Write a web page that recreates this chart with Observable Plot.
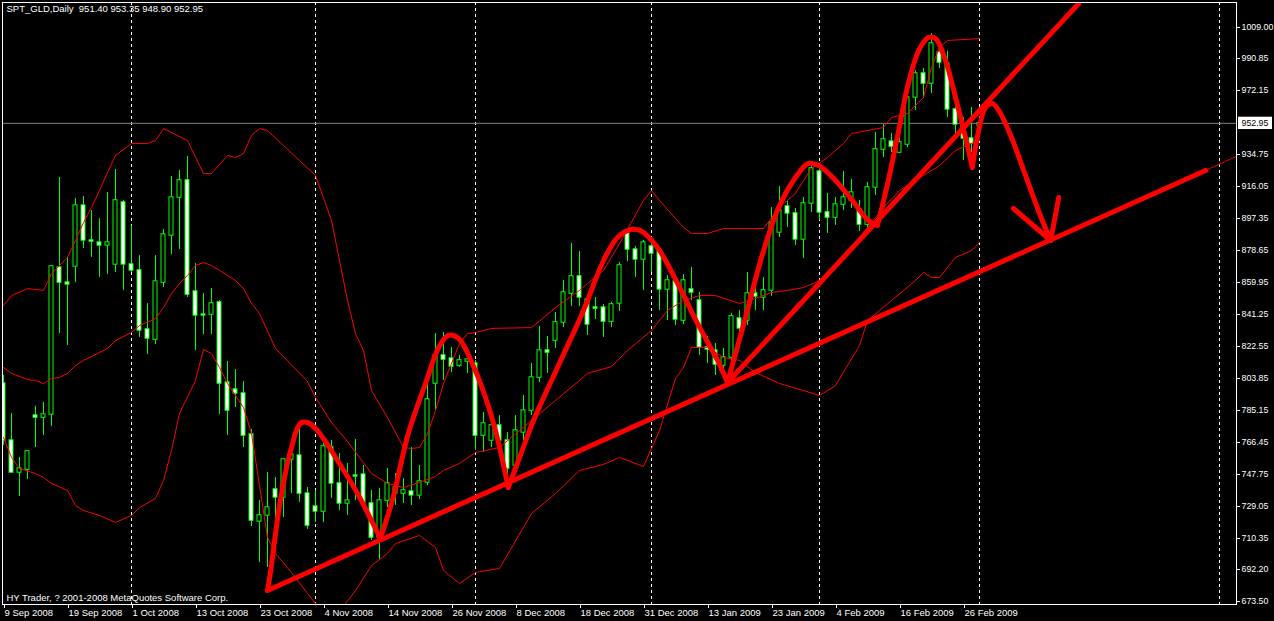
<!DOCTYPE html>
<html>
<head>
<meta charset="utf-8">
<script src="https://cdn.jsdelivr.net/npm/d3@7"></script>
<script src="https://cdn.jsdelivr.net/npm/@observablehq/plot@0.6"></script>
<style>
  html, body { margin: 0; padding: 0; background: #000; }
  #chart svg { display: block; }
</style>
</head>
<body>
<div id="chart"></div>
<script>
// ---------- data ----------
const symbolTitle = "SPT_GLD,Daily  951.40 953.35 948.90 952.95";
const copyright = "HY Trader, ? 2001-2008 MetaQuotes Software Corp.";
const firstDate = "2008-09-09";
const holidays = ["2008-12-25", "2009-01-01"];
const labelEvery = 8;
const extraSeparators = [152];
const lastPrice = 952.95;

const opens = [800.9,767.6,748.9,750.6,782.2,781.0,782.8,868.7,859.9,869.3,904.9,884.5,883.3,881.6,870.5,906.7,870.5,867.0,832.5,826.6,
859.9,887.4,909.6,919.6,854.7,841.2,841.2,848.3,801.5,797.4,795.1,771.1,720.3,723.8,739.0,734.3,756.5,758.8,736.6,729.0,
726.1,763.5,742.5,730.8,747.1,747.7,730.8,710.9,732.5,740.1,736.6,737.8,735.5,743.1,800.9,817.3,815.5,811.4,813.8,812.6,
770.5,767.6,776.4,767.6,753.0,772.3,785.1,804.4,820.2,826.0,836.6,853.5,863.5,850.0,845.3,845.3,837.1,847.7,888.6,879.2,
873.4,881.0,878.6,855.9,860.5,837.7,855.9,849.4,822.0,820.2,811.4,816.1,838.9,837.7,853.5,851.2,855.3,889.2,904.4,900.3,
885.1,906.1,924.8,900.9,897.9,905.5,907.9,902.6,893.8,915.5,937.7,942.3,935.9,940.6,968.1,982.1,976.2,994.4,987.9,961.1,
952.3,944.1,951.40];
const highs = [805.6,783.4,757.7,761.2,787.5,789.8,869.9,921.3,874.6,909.0,910.2,902.0,897.3,912.5,926.0,907.9,893.3,875.7,847.7,875.7,
890.9,921.9,925.4,933.6,871.0,853.5,856.4,849.4,813.8,809.1,802.1,774.0,732.5,748.9,746.0,756.5,763.5,775.2,740.1,738.4,
765.8,767.6,760.0,754.2,768.2,753.0,738.4,739.5,751.2,748.3,745.4,763.5,753.0,800.9,830.1,830.7,822.0,817.3,820.2,814.4,
784.0,782.2,782.2,772.3,782.2,793.9,812.6,834.2,828.4,842.4,861.1,882.7,878.1,852.9,851.2,847.1,848.3,871.6,889.2,881.0,
884.5,884.5,879.2,864.0,862.3,864.6,868.7,854.1,828.4,824.3,821.4,841.8,843.6,865.8,857.0,862.9,903.8,916.0,907.3,903.2,
909.6,930.1,927.2,912.0,909.6,924.8,920.1,907.9,918.4,947.6,952.3,947.0,944.7,970.4,983.8,985.0,1005.5,999.6,995.0,966.3,
956.4,962.2,953.35];
const lows = [764.7,748.3,734.9,744.8,763.5,770.5,775.8,830.1,823.1,859.9,879.8,874.6,862.9,864.6,865.8,855.3,865.8,827.8,817.9,823.7,
857.0,876.3,879.2,851.2,820.2,829.5,829.5,782.8,770.5,786.9,763.5,717.3,696.3,693.4,722.0,722.6,736.6,731.4,715.6,719.7,
719.7,733.7,726.7,723.8,732.5,728.4,709.2,697.5,728.4,729.6,730.8,729.6,733.1,741.3,785.1,802.7,807.3,810.3,806.8,761.8,
760.6,763.5,761.8,738.4,750.1,767.6,782.2,801.5,806.8,821.4,833.6,845.9,845.9,829.0,838.3,827.8,833.6,843.0,872.2,862.9,
855.3,865.8,843.6,837.7,834.8,835.4,849.4,817.3,812.6,805.6,803.8,802.7,830.7,834.8,843.6,843.6,851.8,886.2,892.1,881.6,
874.0,900.9,896.2,888.6,893.3,902.0,903.2,889.7,890.3,910.8,933.0,935.9,935.3,938.8,960.5,967.5,970.4,985.0,956.4,947.0,
931.2,935.9,948.90];
const closes = [767.6,748.9,751.2,761.2,781.0,782.8,869.3,859.9,858.8,904.9,884.5,883.9,881.6,883.3,907.9,870.5,867.0,831.9,827.2,860.5,
888.0,909.6,919.6,852.9,840.7,840.7,847.7,800.9,785.1,795.1,770.5,720.8,723.8,728.4,734.3,756.5,759.4,736.6,717.9,726.1,
764.1,742.5,730.8,732.5,746.6,730.8,710.9,732.5,742.5,736.6,738.4,735.5,743.6,791.6,817.3,814.9,810.8,814.4,814.9,770.5,
777.5,776.4,767.6,751.2,773.4,785.1,804.4,820.2,819.0,836.6,854.1,863.5,851.2,835.4,844.7,837.1,847.1,869.9,879.2,873.4,
883.3,876.9,855.9,861.1,838.3,861.1,854.1,822.0,820.8,812.0,816.1,840.1,833.1,853.5,851.8,855.3,895.0,902.0,900.3,885.1,
906.1,926.6,900.9,897.9,905.5,909.6,912.5,893.8,915.5,937.7,943.5,939.4,941.8,968.1,982.1,976.2,999.6,988.5,961.1,952.3,
944.1,941.2,952.95];

// Bollinger bands: [bar index, price]
const upperBand = [[0,846.5],[1,852.3],[3,856.4],[5,855.3],[6,865.2],[8,874.6],[9,884.5],[10,895.0],[11,903.8],[12,913.7],[13,924.2],[14,934.2],[16,941.2],[18,941.2],[19,942.9],[20,949.9],[23,942.9],[25,923.6],[26,923.6],[28,934.2],[29,933.0],[30,935.3],[31,945.9],[32,949.9],[33,948.8],[35,940.0],[37,931.2],[39,922.5],[41,896.2],[43,849.4],[44,830.1],[45,820.2],[46,796.8],[48,781.0],[50,763.5],[51,762.9],[52,763.5],[53,771.7],[54,785.1],[55,800.9],[57,824.3],[58,830.1],[59,830.7],[61,833.1],[66,833.6],[69,845.3],[72,855.3],[73,859.4],[75,867.0],[77,882.7],[80,907.9],[81,913.7],[82,907.9],[85,892.1],[86,888.6],[88,888.6],[90,891.5],[92,891.5],[95,891.5],[97,903.8],[99,912.0],[100,919.6],[101,926.6],[103,933.0],[105,941.2],[106,947.0],[108,948.8],[110,950.5],[111,956.4],[113,958.7],[115,968.1],[116,985.6],[117,997.3],[118,1001.4],[122,1002.5]];
const middleBand = [[0,810.3],[1,806.8],[3,803.2],[4,802.7],[5,800.9],[6,803.8],[7,804.4],[8,806.8],[9,811.4],[10,814.4],[11,816.7],[13,821.4],[14,826.0],[16,830.7],[17,834.8],[19,838.9],[20,845.3],[21,853.5],[22,859.4],[23,864.0],[24,869.9],[25,871.6],[26,869.9],[27,867.0],[29,861.1],[30,856.4],[31,847.7],[32,841.8],[34,821.4],[38,802.1],[39,792.7],[41,778.1],[43,767.0],[46,748.3],[48,742.5],[50,740.1],[52,743.1],[54,746.6],[55,750.1],[57,754.2],[59,760.6],[62,763.5],[66,779.3],[69,791.0],[72,802.7],[73,806.8],[76,810.8],[78,820.2],[81,831.9],[83,843.6],[85,849.4],[87,852.3],[89,852.3],[92,847.7],[94,850.6],[96,854.1],[98,855.3],[100,857.0],[102,861.1],[104,868.7],[106,880.4],[108,892.1],[110,903.8],[112,913.7],[115,922.5],[117,928.3],[119,937.1],[121,941.2],[122,942.9]];
const lowerBand = [[0,769.4],[1,757.7],[2,751.2],[4,748.3],[5,746.0],[6,742.5],[8,738.4],[9,729.6],[10,726.7],[12,723.8],[14,719.7],[16,723.8],[17,728.4],[19,733.7],[20,744.2],[21,761.8],[22,783.4],[24,802.7],[25,820.8],[26,818.4],[27,810.3],[28,800.9],[30,786.9],[31,771.7],[33,710.9],[34,701.6],[36,690.4],[38,678.2],[40,666.5],[42,667.7],[44,679.9],[46,694.5],[48,701.6],[49,707.4],[52,712.1],[54,705.1],[55,691.6],[57,684.0],[59,690.5],[62,692.8],[66,724.9],[69,736.6],[72,750.1],[75,753.6],[77,757.7],[80,752.4],[82,773.4],[84,803.8],[85,810.3],[86,822.0],[88,822.0],[90,816.1],[92,814.4],[94,807.3],[97,800.9],[100,796.8],[102,793.9],[104,799.7],[107,823.1],[108,837.7],[111,849.4],[114,861.1],[115,865.8],[116,862.9],[117,862.9],[119,874.6],[121,878.6],[122,883.3]];

// price axis labels
const priceTicks = [1009.00,990.85,972.15,934.75,916.05,897.35,878.65,859.95,841.25,822.55,803.85,785.15,766.45,747.75,729.05,710.35,692.20,673.50];

// hand-drawn annotations: [bar index, price]
const trendA = [[33.0,679.9],[150.25,925.4]];
const trendAExt = [[150.25,925.4],[154.1,933.6]];
const trendB = [[90.5,801.5],[134.4,1023.0]];
const humps = [
  [[33.0,679.9],[33.4,691.6],[34.6,732.5],[35.9,761.8],[37.1,777.5],[38.0,778.1],[39.25,773.4],[41.75,755.9],[44.25,736.6],[47.1,710.3]],
  [[47.1,710.3],[48.6,732.5],[50.6,771.7],[52.75,800.9],[54.4,822.0],[55.6,829.0],[56.9,827.2],[58.6,812.6],[60.25,792.7],[61.5,773.4],[63.1,740.1]],
  [[63.1,740.1],[64.6,758.8],[66.25,779.3],[69.25,810.3],[72.5,843.6],[75.0,872.8],[76.75,886.2],[78.4,890.9],[79.6,890.3],[81.75,880.4],[84.25,859.4],[86.75,836.0],[89.25,814.4],[90.5,801.5]],
  [[90.5,801.5],[92.75,839.5],[94.9,876.9],[96.9,903.8],[99.0,921.3],[100.6,929.5],[101.9,928.3],[104.0,919.6],[106.1,907.9],[108.1,896.2],[109.25,893.3]],
  [[109.25,893.3],[110.6,919.6],[111.9,948.8],[113.1,976.2],[114.4,995.5],[115.6,1003.1],[116.5,1002.5],[117.75,989.7],[119.0,968.1],[120.25,944.7],[121.1,927.2]],
  [[121.1,927.2],[121.9,948.8],[122.75,962.2],[123.6,964.6],[124.4,960.5],[125.9,945.9],[127.75,922.5],[129.6,899.1],[130.9,884.5]]
];
const arrowHead = [
  [[126.25,903.2],[130.9,884.5]],
  [[131.9,909.6],[130.9,884.5]]
];

// ---------- derived structures ----------
const dates = [];
{
  let d = new Date(firstDate + "T00:00:00Z");
  while (dates.length < opens.length) {
    const dow = d.getUTCDay();
    const iso = d.toISOString().slice(0, 10);
    if (dow !== 0 && dow !== 6 && !holidays.includes(iso)) dates.push(new Date(d));
    d = new Date(d.getTime() + 86400000);
  }
}
const candles = opens.map((o, i) => ({i, open: o, high: highs[i], low: lows[i], close: closes[i]}));
const fmt = d3.utcFormat("%-d %b %Y");
const xTicks = d3.range(0, dates.length, labelEvery);
const separators = d3.range(1, dates.length)
  .filter(i => dates[i].getUTCMonth() !== dates[i - 1].getUTCMonth())
  .concat(extraSeparators);
const humpPts = humps.flatMap((h, g) => h.map(([x, y]) => ({x, y, g})));
const arrowPts = arrowHead.flatMap((h, g) => h.map(([x, y]) => ({x, y, g})));
const pts = a => a.map(([x, y]) => ({x, y}));

const xDomain = [-0.125, 154.125];
const yDomain = [671.75, 1023.59];
const RED = "#ff0000", GREEN = "#00ff00";

const chart = Plot.plot({
  width: 1274,
  height: 621,
  marginLeft: 2,
  marginRight: 38,
  marginTop: 2,
  marginBottom: 17,
  style: {background: "#000", color: "#fff", fontFamily: "'Liberation Sans', Arial, sans-serif", fontSize: "9.5px"},
  x: {type: "linear", domain: xDomain},
  y: {type: "linear", domain: yDomain},
  marks: [
    Plot.ruleX(separators, {x: d => d, stroke: "#fff", strokeDasharray: "3,3"}),
    Plot.ruleY([lastPrice], {y: d => d, stroke: "#808080"}),
    Plot.ruleX(candles, {x: "i", y1: "low", y2: "high", stroke: GREEN, clip: true}),
    Plot.rect(candles, {
      x1: d => d.i - 0.25, x2: d => d.i + 0.25,
      y1: d => Math.min(d.open, d.close) - 0.15,
      y2: d => Math.max(d.open, d.close) + 0.15,
      fill: d => d.close > d.open ? "#000" : "#fff",
      stroke: GREEN, clip: true
    }),
    Plot.line(pts(upperBand), {x: "x", y: "y", stroke: RED, strokeWidth: 1, clip: true}),
    Plot.line(pts(middleBand), {x: "x", y: "y", stroke: RED, strokeWidth: 1, clip: true}),
    Plot.line(pts(lowerBand), {x: "x", y: "y", stroke: RED, strokeWidth: 1, clip: true}),
    Plot.line(pts(trendA), {x: "x", y: "y", stroke: RED, strokeWidth: 5, clip: true}),
    Plot.line(pts(trendAExt), {x: "x", y: "y", stroke: RED, strokeWidth: 1, strokeDasharray: "2,1", clip: true}),
    Plot.dot([trendA[1]], {x: d => d[0], y: d => d[1], r: 2.5, fill: RED}),
    Plot.line(pts(trendB), {x: "x", y: "y", stroke: RED, strokeWidth: 5, clip: true}),
    Plot.line(humpPts, {x: "x", y: "y", z: "g", stroke: RED, strokeWidth: 5, curve: "catmull-rom", strokeLinecap: "round", strokeLinejoin: "round", clip: true}),
    Plot.line(arrowPts, {x: "x", y: "y", z: "g", stroke: RED, strokeWidth: 5, strokeLinecap: "round", clip: true}),
    Plot.axisY({anchor: "right", ticks: priceTicks, tickFormat: d => d.toFixed(2), tickSize: 3, tickPadding: 2, fontSize: 8.8, stroke: "#fff", fill: "#fff"}),
    Plot.axisX({anchor: "bottom", ticks: xTicks, tickFormat: i => fmt(dates[i]), tickSize: 4, tickPadding: 1, textAnchor: "start", dx: 1, stroke: "#fff", fill: "#fff"}),
    Plot.rect([lastPrice], {x1: () => xDomain[1] + 0.25, x2: () => xDomain[1] + 4.5, y1: d => d - 3.6, y2: d => d + 3.6, fill: "#fff"}),
    Plot.text([lastPrice], {x: () => xDomain[1], y: d => d, text: d => d.toFixed(2), dx: 5, fontSize: 8.8, textAnchor: "start", fill: "#000"}),
    Plot.text([symbolTitle], {frameAnchor: "top-left", text: d => d, dx: 4, dy: 3, fill: "#fff"}),
    Plot.text([copyright], {frameAnchor: "bottom-left", text: d => d, dx: 4, dy: -4, fill: "#fff"}),
    Plot.frame({stroke: "#fff"})
  ]
});
document.getElementById("chart").append(chart);
</script>
</body>
</html>
